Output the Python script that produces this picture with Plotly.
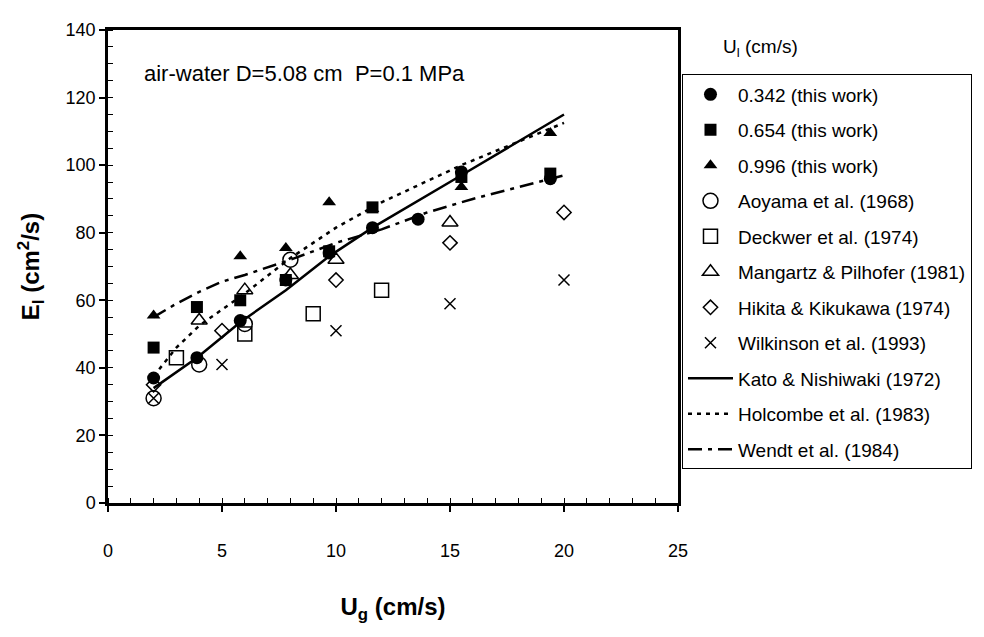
import plotly.graph_objects as go

# U_l = 0.342 / 0.654 / 0.996 cm/s (this work)
ug_342 = [2.0, 3.9, 5.8, 7.8, 9.7, 11.6, 13.6, 15.5, 19.4]
el_342 = [37, 43, 54, 66, 74, 81.5, 84, 98, 96]
ug_654 = [2.0, 3.9, 5.8, 7.8, 9.7, 11.6, 15.5, 19.4]
el_654 = [46, 58, 60, 66, 74.5, 87.5, 96.5, 97.5]
ug_996 = [2.0, 5.8, 7.8, 9.7, 11.6, 15.5, 19.4]
el_996 = [55.5, 73, 75.5, 89, 87, 93.5, 109.5]

# literature data
ug_aoyama = [2, 4, 6, 8]
el_aoyama = [31, 41, 53, 72]
ug_deckwer = [3, 6, 9, 12]
el_deckwer = [43, 50, 56, 63]
ug_mangartz = [4, 6, 8, 10, 15]
el_mangartz = [54, 63, 67.5, 72, 83]
ug_hikita = [2, 5, 10, 15, 20]
el_hikita = [35, 51, 66, 77, 86]
ug_wilkinson = [2, 5, 10, 15, 20]
el_wilkinson = [31, 41, 51, 59, 66]

# correlations
ug_kato = [2.0, 3.9, 5.8, 7.8, 9.7, 11.6, 15.5, 20]
el_kato = [34, 43, 53.5, 63, 73, 81.5, 97, 115]
ug_holcombe = [2, 3, 4, 6, 8, 10, 12, 15.5, 20]
el_holcombe = [37.5, 46, 52.5, 62, 72.5, 81.5, 89, 100, 112.5]
ug_wendt = [2, 3, 4, 5, 6, 8, 10, 12, 14, 16, 18, 20]
el_wendt = [55, 59, 62.5, 65.5, 67.5, 72, 77, 81, 86, 90, 93.5, 97]

FONT = "Liberation Sans, Arial, sans-serif"

fig = go.Figure()

markers = [
    ("0.342 (this work)", ug_342, el_342, "circle", 13, 0),
    ("0.654 (this work)", ug_654, el_654, "square", 12, 0),
    ("0.996 (this work)", ug_996, el_996, "triangle-up", 12, 0),
    ("Aoyama et al. (1968)", ug_aoyama, el_aoyama, "circle-open", 15, 1.5),
    ("Deckwer et al. (1974)", ug_deckwer, el_deckwer, "square-open", 14, 1.5),
    ("Mangartz & Pilhofer (1981)", ug_mangartz, el_mangartz, "triangle-up-open", 14, 1.5),
    ("Hikita & Kikukawa (1974)", ug_hikita, el_hikita, "diamond-open", 11, 1.5),
    ("Wilkinson et al. (1993)", ug_wilkinson, el_wilkinson, "x-thin-open", 11, 1.5),
]
for i, (name, xs, ys, sym, size, lw) in enumerate(markers):
    fig.add_trace(go.Scatter(
        x=xs, y=ys, mode="markers", name=name, legendgroup=f"g{i}",
        marker=dict(symbol=sym, size=size, color="black",
                    line=dict(color="black", width=lw)),
    ))

lines = [
    ("Kato & Nishiwaki (1972)", ug_kato, el_kato, "solid"),
    ("Holcombe et al. (1983)", ug_holcombe, el_holcombe, "4px,5px"),
    ("Wendt et al. (1984)", ug_wendt, el_wendt, "14px,6px,4px,6px"),
]
for j, (name, xs, ys, dash) in enumerate(lines):
    fig.add_trace(go.Scatter(
        x=xs, y=ys, mode="lines", name=name, legendgroup=f"l{j}",
        line=dict(color="black", width=2.5, dash=dash),
    ))

axis_common = dict(
    showline=True, linecolor="black", linewidth=2.5, mirror=True,
    showgrid=False, zeroline=False,
    ticks="outside", ticklen=6, tickwidth=1.5, tickcolor="black",
    tickfont=dict(family=FONT, size=18, color="black"),
)

fig.update_xaxes(
    range=[0, 25], dtick=5, tick0=0, ticklabelstandoff=24,
    minor=dict(dtick=1, ticks="inside", ticklen=5, tickwidth=1, tickcolor="black"),
    title=dict(text="<b>U<sub>g</sub> (cm/s)</b>", font=dict(family=FONT, size=24, color="black"), standoff=38),
    **axis_common,
)
fig.update_yaxes(
    range=[0, 140], dtick=20, tick0=0,
    minor=dict(dtick=5, ticks="inside", ticklen=5, tickwidth=1, tickcolor="black"),
    title=dict(text="<b>E<sub>l</sub> (cm<sup>2</sup>/s)</b>", font=dict(family=FONT, size=24, color="black"), standoff=20),
    **axis_common,
)

fig.add_annotation(
    x=1.5, y=127, xref="x", yref="y", xanchor="left", yanchor="middle",
    text="air-water D=5.08 cm&nbsp; P=0.1 MPa", showarrow=False,
    font=dict(family=FONT, size=22, color="black"),
)
fig.add_annotation(
    x=1.075, y=0.961, xref="paper", yref="paper", xanchor="left", yanchor="middle",
    text="U<sub>l</sub> (cm/s)", showarrow=False,
    font=dict(family=FONT, size=19, color="black"),
)

fig.update_layout(
    width=984, height=637,
    margin=dict(l=100, r=314, t=12, b=142),
    plot_bgcolor="white", paper_bgcolor="white",
    font=dict(family=FONT, color="black"),
    legend=dict(
        x=1.007, y=0.906, xanchor="left", yanchor="top",
        bordercolor="black", borderwidth=1, bgcolor="white",
        font=dict(family=FONT, size=19, color="black"),
        tracegroupgap=7.8, traceorder="grouped", itemwidth=45,
    ),
)

fig.write_html("out.html")
